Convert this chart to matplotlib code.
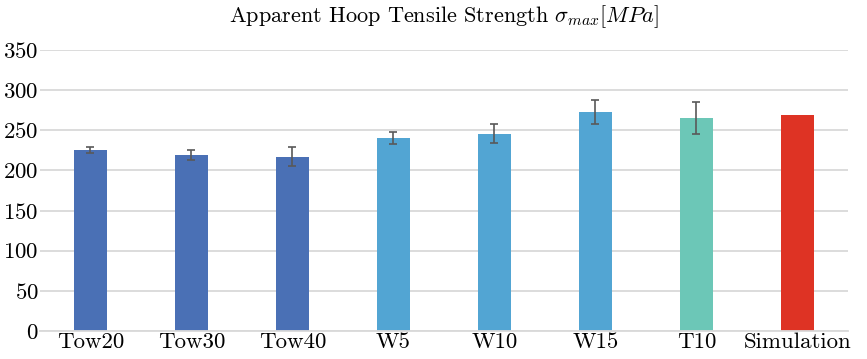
import matplotlib
matplotlib.use("Agg")
from matplotlib import pyplot as plt

categories = ["Tow20", "Tow30", "Tow40", "W5", "W10", "W15", "T10", "Simulation"]
strength = [225, 219, 217, 240, 245.5, 273, 265, 268.5]
strength_err = [3.5, 6.5, 12, 7.5, 12, 15, 20, 0]
bar_colors = ["#4a70b5", "#4a70b5", "#4a70b5", "#52a5d3", "#52a5d3", "#52a5d3", "#6cc7b7", "#de3324"]
yticks = [0, 50, 100, 150, 200, 250, 300, 350]

plt.rcParams["font.family"] = "serif"
plt.rcParams["font.serif"] = ["cmr10"]
plt.rcParams["mathtext.fontset"] = "cm"
plt.rcParams["axes.formatter.use_mathtext"] = True

fig = plt.figure(figsize=(8.67, 3.59), dpi=100)
ax = fig.add_axes([0.046, 0.078, 0.932, 0.783])

x = list(range(len(categories)))
ax.bar(x, strength, width=0.33, color=bar_colors, zorder=2)
err_x = [i for i in x if strength_err[i] > 0]
ax.errorbar(err_x, [strength[i] for i in err_x], yerr=[strength_err[i] for i in err_x],
            fmt="none", ecolor="#595959", elinewidth=1.2, capsize=3, capthick=1.2, zorder=3)

ax.set_xlim(-0.5, len(categories) - 0.5)
ax.set_ylim(0, 350)
ax.set_yticks(yticks)
ax.set_xticks(x)
ax.set_xticklabels(categories)
ax.grid(axis="y", color="#d9d9d9", linewidth=1.3, zorder=0)
for side in ["top", "right", "left"]:
    ax.spines[side].set_visible(False)
ax.spines["bottom"].set_color("#d9d9d9")
ax.spines["bottom"].set_linewidth(1.3)
ax.tick_params(axis="both", length=0, labelsize=16.5, pad=1)
ax.tick_params(axis="y", pad=1)

ax.set_title(r"Apparent Hoop Tensile Strength $\sigma_{max}[MPa]$", fontsize=16, pad=20)

fig.savefig("out.png", dpi=100)
